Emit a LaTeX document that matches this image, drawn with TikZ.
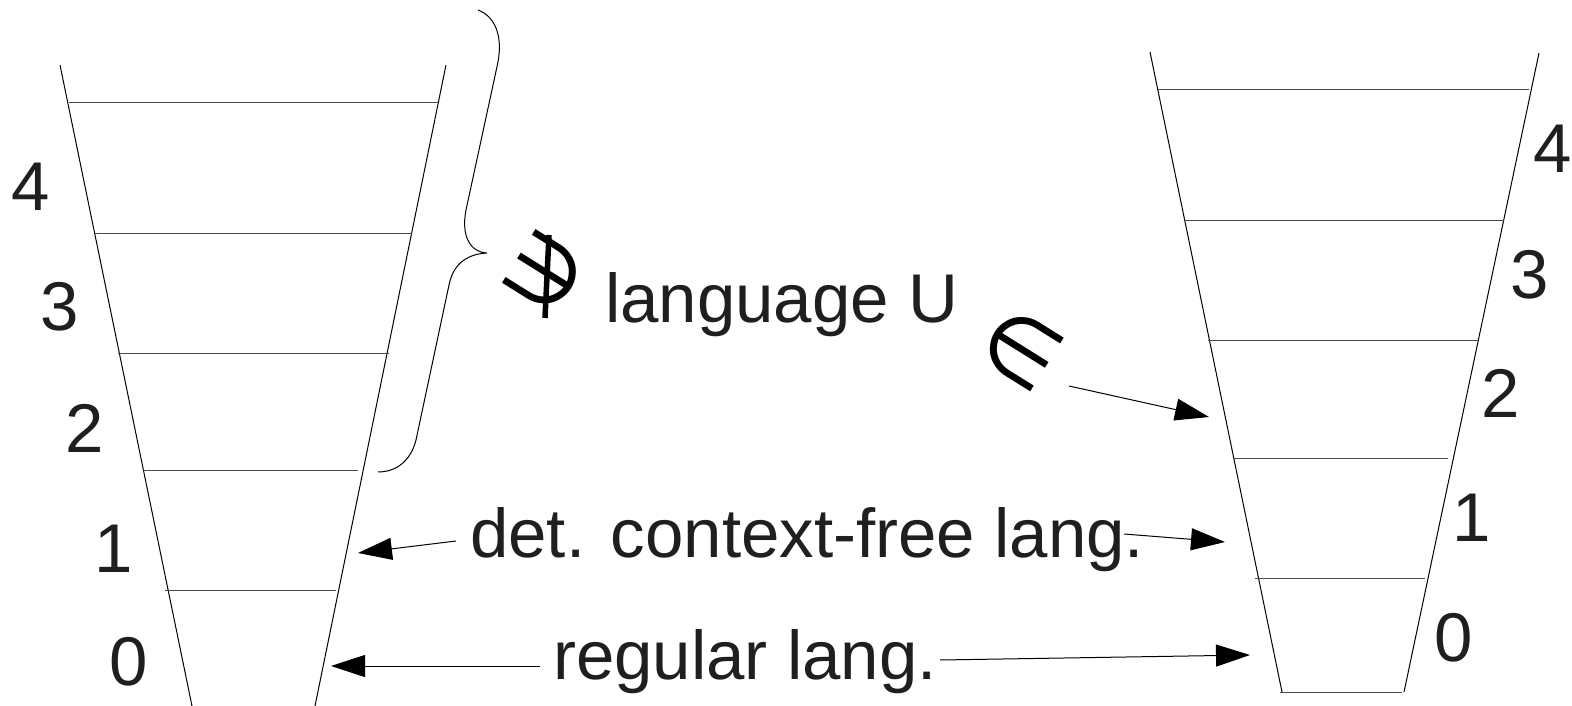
\documentclass[tikz,border=0pt]{standalone}
\usepackage{fontspec}
\setmainfont{Liberation Sans}
\newfontfamily\symfont{DejaVu Sans}
\usetikzlibrary{arrows.meta}
\begin{document}
\begin{tikzpicture}[x=1pt,y=-1pt,
  side/.style={line width=1pt, black},
  rung/.style={line width=1pt, black!70},
  lab/.style={font=\fontsize{69}{80}\selectfont, text=black!88, inner sep=0pt},
  arr/.style={line width=1pt, -{Triangle[length=34pt,width=22pt]}},
  sym/.style={font=\symfont\fontsize{88}{96}\selectfont, inner sep=0pt, rotate=-32}]
\useasboundingbox (0,0) rectangle (1572,706);
% left funnel
\coordinate (LTL) at (60,65); \coordinate (LBL) at (192,706);
\coordinate (LTR) at (446,65); \coordinate (LBR) at (315,706);
\draw[side] (LTL) -- (LBL);
\draw[side] (LTR) -- (LBR);
\draw[rung] (69,103) -- (438,103);
\draw[rung] (95,233) -- (412,233);
\draw[rung] (118,353) -- (389,353);
\draw[rung] (143,470) -- (358,470);
\draw[rung] (165,590) -- (336,590);
\node[lab, anchor=base] (l4) at (31,211) {4};
\node[lab, anchor=base] (l3) at (60,330) {3};
\node[lab, anchor=base] (l2) at (85,452) {2};
\node[lab, anchor=base] (l1) at (114,572) {1};
\node[lab, anchor=base] (l0) at (129,685) {0};
% right funnel
\coordinate (RTL) at (1150,52); \coordinate (RBL) at (1282,692);
\coordinate (RTR) at (1539,53); \coordinate (RBR) at (1404,692);
\draw[side] (RTL) -- (RBL);
\draw[side] (RTR) -- (RBR);
\draw[rung] (1158,90) -- (1529,90);
\draw[rung] (1185,220) -- (1504,220);
\draw[rung] (1208,340) -- (1478,340);
\draw[rung] (1233,458) -- (1448,458);
\draw[rung] (1255,578) -- (1425,578);
\draw[rung] (1280,692) -- (1402,692);
\node[lab, anchor=base] (r4) at (1553,172) {4};
\node[lab, anchor=base] (r3) at (1530,298) {3};
\node[lab, anchor=base] (r2) at (1501,417) {2};
\node[lab, anchor=base] (r1) at (1472,541) {1};
\node[lab, anchor=base] (r0) at (1454,661) {0};
% brace
\draw[line width=1pt] (478,10) .. controls (494,16) and (503,34) .. (498,62)
  -- (466,210) .. controls (461,236) and (470,252) .. (487,253)
  .. controls (466,254) and (453,265) .. (449,285)
  -- (416,440) .. controls (411,460) and (397,472) .. (378,472);
% labels
\node[sym] (ni) at (545,273) {∋};
\coordinate (s1) at (549,235); \coordinate (s2) at (545,318);
\draw[line width=5.5pt] (s1) -- (s2);
\node[lab, anchor=base west] (langU) at (605,322) {language U};
\node[sym] (elem) at (1021,349) {∈};
\node[lab, anchor=base west] (det) at (470,557) {det. context-free lang.};
\node[lab, anchor=base west] (reg) at (553,679) {regular lang.};
% arrows
\coordinate (e1) at (1069,386); \coordinate (e2) at (1209,417);
\draw[arr] (e1) -- (e2);
\coordinate (d1) at (456,541); \coordinate (d2) at (358,553);
\draw[arr] (d1) -- (d2);
\coordinate (d3) at (1124,534); \coordinate (d4) at (1225,542);
\draw[arr] (d3) -- (d4);
\coordinate (g1) at (540,666); \coordinate (g2) at (331,666);
\draw[arr] (g1) -- (g2);
\coordinate (g3) at (940,660); \coordinate (g4) at (1250,655);
\draw[arr] (g3) -- (g4);
\end{tikzpicture}
\end{document}
